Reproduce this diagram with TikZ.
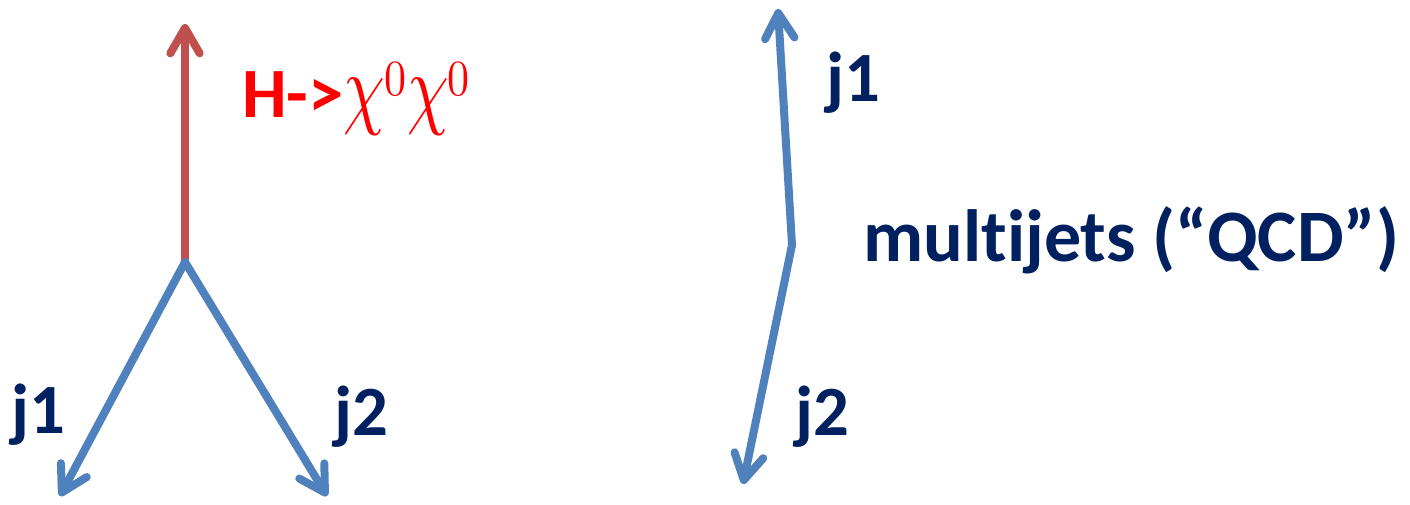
\documentclass[tikz,border=0pt]{standalone}
\usepackage{graphicx}
\usepackage{fontspec}
\setmainfont{Carlito}[Ligatures=NoCommon]
\usetikzlibrary{arrows.meta}
\definecolor{jetblue}{HTML}{4F81BD}
\definecolor{higgsred}{HTML}{C0504D}
\definecolor{navy}{HTML}{002060}
\definecolor{labred}{HTML}{FF0000}
\tikzset{
  vec/.style={line width=6pt, line cap=round, -{Straight Barb[length=19pt,width=22pt,line width=6pt,round]}},
  lab/.style={font=\fontsize{53}{60}\selectfont\bfseries, text=navy, inner sep=0pt, anchor=base west},
}
\newcommand{\chisup}{{\normalsize\scalebox{5.0}[6.8]{$\chi$}}\kern-1pt\raisebox{17pt}{\normalsize\scalebox{3.3}[3.8]{$0$}}}
\begin{document}
\begin{tikzpicture}[x=0.75pt,y=-0.75pt]
\useasboundingbox (0,0) rectangle (1410,505);
% left event
\coordinate (v) at (185,262);
\coordinate (h) at (185,24);
\coordinate (l1) at (60,496);
\coordinate (l2) at (327,496);
\draw[vec, draw=higgsred] (v) -- (h);
\draw[vec, draw=jetblue] (v) -- (l1);
\draw[vec, draw=jetblue] (v) -- (l2);
\node[lab, text=labred] (hl) at (242,118) {H->\chisup\kern1pt\chisup};
\node[lab] (lj1) at (11,434) {j1};
\node[lab] (lj2) at (334,436) {j2};
% right event
\coordinate (k) at (792,245);
\coordinate (r1) at (778,9);
\coordinate (r2) at (743,484);
\draw[vec, draw=jetblue] (k) -- (r1);
\draw[vec, draw=jetblue] (k) -- (r2);
\node[lab] (rj1) at (826,102) {j1};
\node[lab] (rj2) at (795,436) {j2};
\node[lab, font=\fontsize{55.5}{60}\selectfont\bfseries] (qcd) at (863,262) {multijets (“QCD”)};
\end{tikzpicture}
\end{document}
